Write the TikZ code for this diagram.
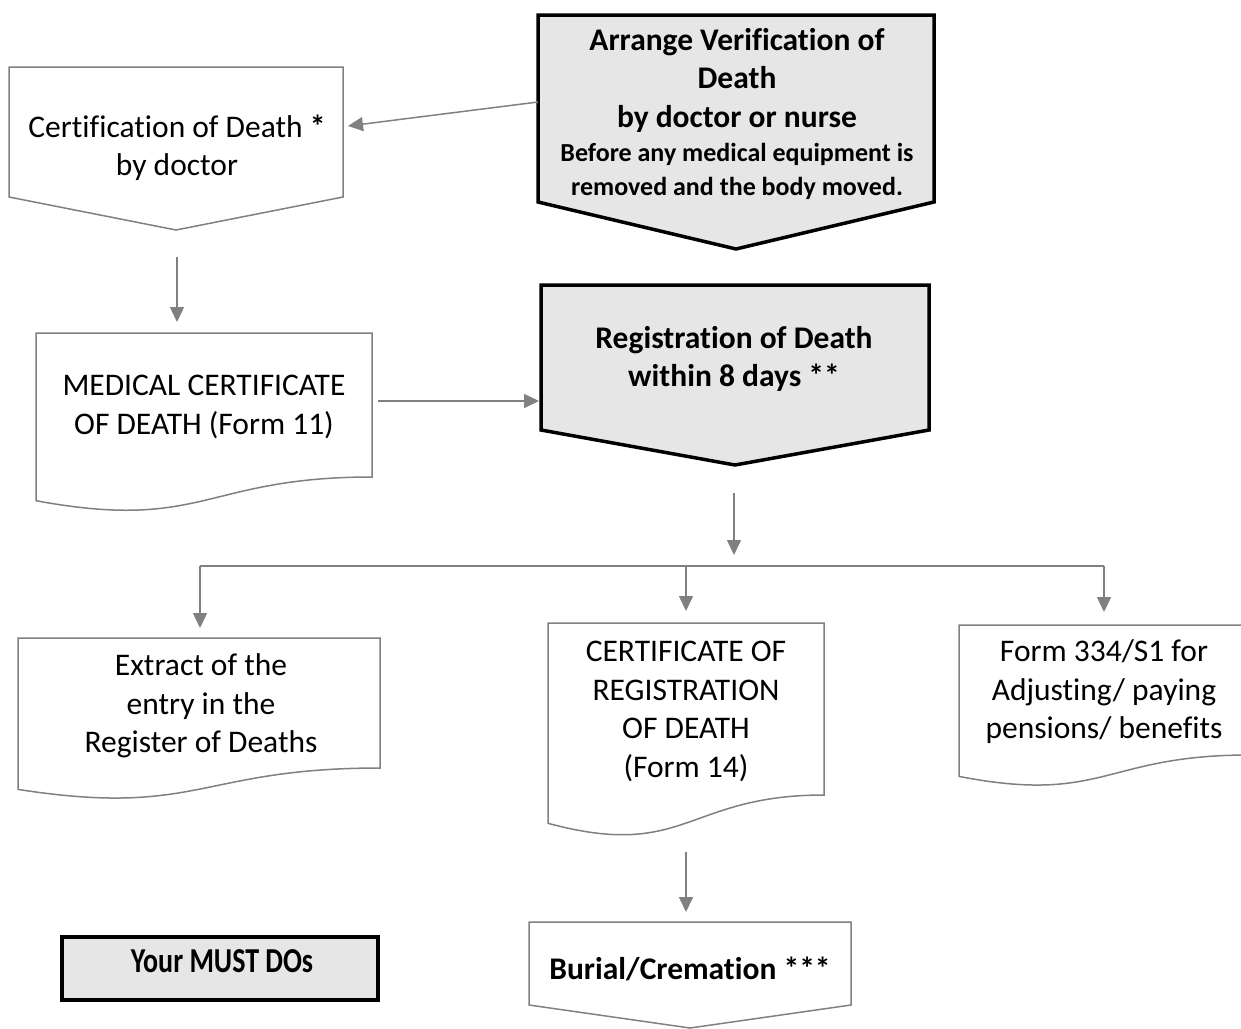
\documentclass[tikz,border=0pt]{standalone}
\usepackage{graphicx}
\usepackage{fontspec}
\setmainfont{Carlito}[Ligatures=NoCommon]
\usetikzlibrary{arrows.meta,calc}
\definecolor{boxgray}{HTML}{E7E6E6}
\definecolor{linegray}{HTML}{808080}
\begin{document}
\begin{tikzpicture}[x=1pt,y=-1pt,
  thinline/.style={draw=linegray, line width=1.5pt, fill=white, line join=miter},
  thickline/.style={draw=black, line width=3.5pt, fill=boxgray, line join=miter},
  conn/.style={draw=linegray, line width=1.5pt, -{Triangle[length=15pt,width=14pt]}},
  bus/.style={draw=linegray, line width=1.5pt},
  bodybox/.style={inner sep=0pt, outer sep=0pt, draw=none},
  txt/.style={align=center, inner sep=0pt, font=\fontsize{31.5}{38.5}\selectfont},
  btxt/.style={align=center, inner sep=0pt, font=\bfseries\fontsize{31.5}{38.5}\selectfont},
  stxt/.style={align=center, inner sep=0pt, font=\bfseries\fontsize{26}{34}\selectfont}]
\useasboundingbox (0,0) rectangle (1241,1028);
\clip (0,0) rectangle (1241,1028);

% ---- Box 1: Certification of Death (pentagon)
\node[bodybox, minimum width=334pt, minimum height=130pt] (b1) at (176,132) {};
\draw[thinline] (b1.north west) -- (b1.north east) -- (b1.south east) -- ([yshift=-33pt]b1.south) -- (b1.south west) -- cycle;
\node[txt] (b1t) at (177,148) {Certification of Death \textbf{*}\\by doctor};

% ---- Box 2: Arrange Verification (thick pentagon)
\node[bodybox, minimum width=396pt, minimum height=187pt] (b2) at (736,108.5) {};
\draw[thickline] (b2.north west) -- (b2.north east) -- (b2.south east) -- ([yshift=-47pt]b2.south) -- (b2.south west) -- cycle;
\node[btxt] (b2a) at (737,80) {Arrange Verification of\\Death\\by doctor or nurse};
\node[stxt] (b2b) at (737,171) {Before any medical equipment is\\removed and the body moved.};

% ---- Box 3: Medical certificate (document)
\node[bodybox, minimum width=336pt, minimum height=144pt] (b3) at (204,405) {};
\draw[thinline] (b3.south west) -- (b3.north west) -- (b3.north east) -- (b3.south east)
  .. controls (b3.south) and ([yshift=-54.8pt]b3.south) .. ([yshift=-23.7pt]b3.south west) -- cycle;
\node[txt] (b3t) at (204,407) {MEDICAL CERTIFICATE\\OF DEATH (Form 11)};

% ---- Box 4: Registration of Death (thick pentagon)
\node[bodybox, minimum width=388pt, minimum height=145pt] (b4) at (735,357.5) {};
\draw[thickline] (b4.north west) -- (b4.north east) -- (b4.south east) -- ([yshift=-35pt]b4.south) -- (b4.south west) -- cycle;
\node[btxt] (b4t) at (734,359) {Registration of Death\\within 8 days **};

% ---- Box 5: Extract (document)
\node[bodybox, minimum width=362pt, minimum height=130pt] (b5) at (199,703) {};
\draw[thinline] (b5.south west) -- (b5.north west) -- (b5.north east) -- (b5.south east)
  .. controls (b5.south) and ([yshift=-49.5pt]b5.south) .. ([yshift=-21.4pt]b5.south west) -- cycle;
\node[txt] (b5t) at (201,706) {Extract of the\\entry in the\\Register of Deaths};

% ---- Box 6: Certificate of registration (document)
\node[bodybox, minimum width=276pt, minimum height=172pt] (b6) at (686,709) {};
\draw[thinline] (b6.south west) -- (b6.north west) -- (b6.north east) -- (b6.south east)
  .. controls (b6.south) and ([yshift=-65.5pt]b6.south) .. ([yshift=-28.3pt]b6.south west) -- cycle;
\node[txt] (b6t) at (686,711.5) {CERTIFICATE OF\\REGISTRATION\\OF DEATH\\(Form 14)};

% ---- Box 7: Form 334/S1 (document)
\node[bodybox, minimum width=290pt, minimum height=130pt] (b7) at (1104,690) {};
\draw[thinline] (b7.south west) -- (b7.north west) -- (b7.north east) -- (b7.south east)
  .. controls (b7.south) and ([yshift=-49.5pt]b7.south) .. ([yshift=-21.4pt]b7.south west) -- cycle;
\node[txt] (b7t) at (1104,692) {Form 334/S1 for\\Adjusting/ paying\\pensions/ benefits};

% ---- Box 8: Burial/Cremation (pentagon)
\node[bodybox, minimum width=322pt, minimum height=83pt] (b8) at (690,963.5) {};
\draw[thinline] (b8.north west) -- (b8.north east) -- (b8.south east) -- ([yshift=-23pt]b8.south) -- (b8.south west) -- cycle;
\node[btxt] (b8t) at (690,969) {Burial/Cremation ***};

% ---- Box 9: legend
\node[thickline, inner sep=0pt, minimum width=316pt, minimum height=63pt] (b9) at (220,968.5) {};
\node[btxt, font=\bfseries\fontsize{28}{34}\selectfont] (b9t) at (222,961) {\scalebox{1}[1.25]{Your MUST DOs}};

% ---- connectors
\coordinate (a1s) at (538,102); \coordinate (a1e) at (348,126);
\coordinate (a2s) at (177,257); \coordinate (a2e) at (177,322);
\coordinate (a3s) at (378,401); \coordinate (a3e) at (539,401);
\coordinate (a4s) at (734,493); \coordinate (a4e) at (734,555);
\coordinate (jl) at (200,566); \coordinate (jm) at (686,566); \coordinate (jr) at (1104,566);
\coordinate (a5e) at (200,628); \coordinate (a6e) at (686,611); \coordinate (a7e) at (1104,612);
\coordinate (a8s) at (686,852); \coordinate (a8e) at (686,912);

\draw[conn] (a1s) -- (a1e);
\draw[conn] (a2s) -- (a2e);
\draw[conn] (a3s) -- (a3e);
\draw[conn] (a4s) -- (a4e);
\draw[bus] (jl) -- (jr);
\draw[conn] (jl) -- (a5e);
\draw[conn] (jm) -- (a6e);
\draw[conn] (jr) -- (a7e);
\draw[conn] (a8s) -- (a8e);
\end{tikzpicture}
\end{document}
